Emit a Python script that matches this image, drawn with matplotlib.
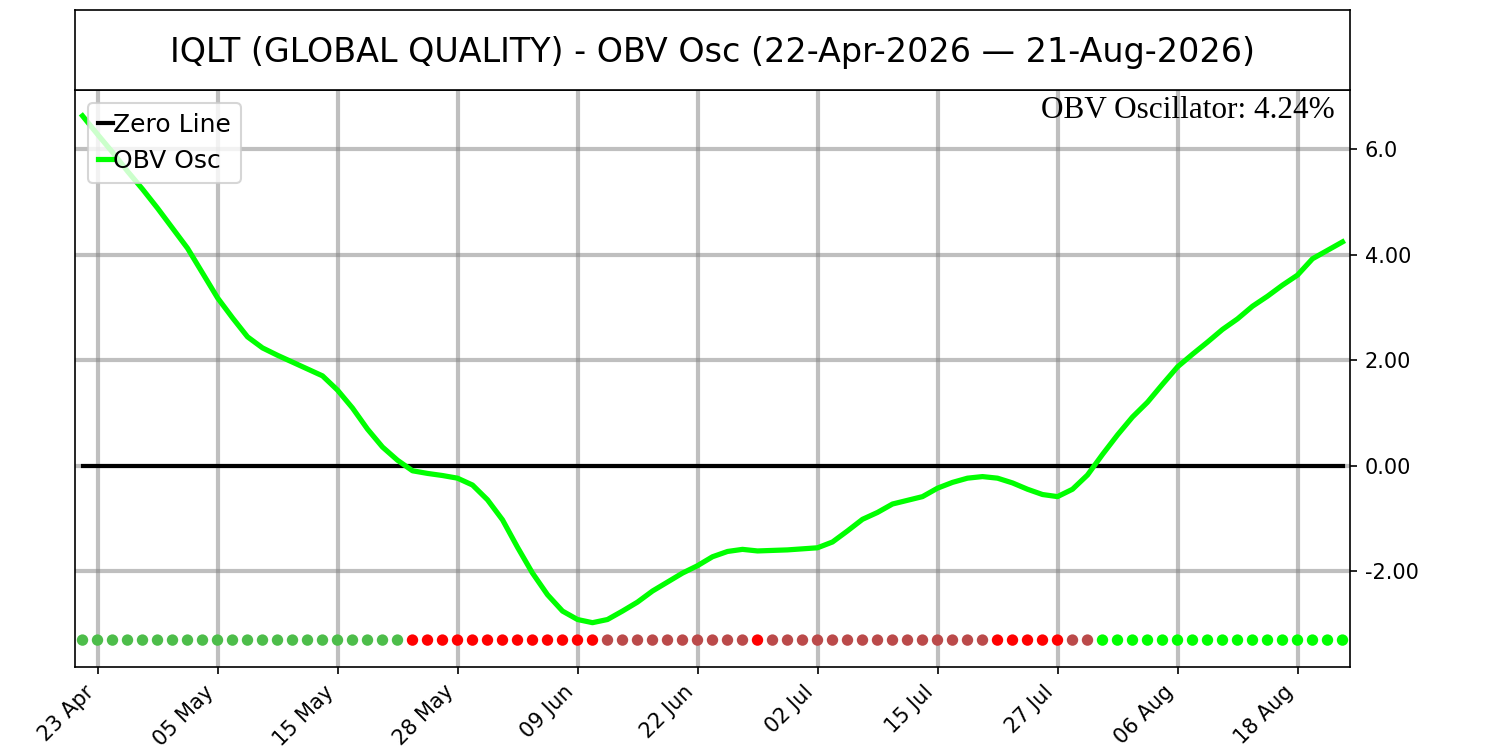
import matplotlib
matplotlib.use("Agg")
import matplotlib.pyplot as plt
import pandas as pd
import numpy as np

# ---- data ----
start_date = "2026-04-22"
end_date = "2026-08-21"
holidays = ["2026-05-25", "2026-06-19", "2026-07-03"]

obv_osc = [6.63, 6.28, 5.94, 5.58, 5.24, 4.88, 4.50, 4.12, 3.65, 3.18,
           2.80, 2.44, 2.23, 2.09, 1.96, 1.83, 1.70, 1.43, 1.09, 0.69,
           0.35, 0.10, -0.10, -0.15, -0.19, -0.24, -0.37, -0.65, -1.03, -1.55,
           -2.04, -2.45, -2.76, -2.92, -2.98, -2.92, -2.76, -2.59, -2.38, -2.21,
           -2.04, -1.90, -1.73, -1.63, -1.59, -1.62, -1.61, -1.60, -1.58, -1.56,
           -1.45, -1.24, -1.02, -0.89, -0.73, -0.66, -0.59, -0.43, -0.32, -0.24,
           -0.21, -0.24, -0.33, -0.45, -0.55, -0.59, -0.45, -0.18, 0.21, 0.58,
           0.92, 1.20, 1.54, 1.87, 2.11, 2.34, 2.58, 2.78, 3.02, 3.21,
           3.42, 3.61, 3.92, 4.08, 4.24]

signal = (["G"] * 22 + ["R"] * 13 + ["B"] * 10 + ["R"] * 1 + ["B"] * 15
          + ["R"] * 5 + ["B"] * 2 + ["L"] * 17)

tick_labels = ["23 Apr", "05 May", "15 May", "28 May", "09 Jun", "22 Jun",
               "02 Jul", "15 Jul", "27 Jul", "06 Aug", "18 Aug"]
ytick_vals = [6, 4, 2, 0, -2]
ytick_text = ["6.0", "4.00", "2.00", "0.00", "-2.00"]

title = "IQLT (GLOBAL QUALITY) - OBV Osc (22-Apr-2026 \u2014 21-Aug-2026)"
last_text = "OBV Oscillator: 4.24%"

signal_colors = {"G": "#4dbd4a", "R": "#ff0000", "B": "#bb4a4a", "L": "#00ff00"}

# ---- build ----
dates = pd.bdate_range(start_date, end_date)
dates = dates[~dates.isin(pd.to_datetime(holidays))]
x = np.arange(len(dates))
date_str = [d.strftime("%d %b") for d in dates]
tick_pos = [date_str.index(t) for t in tick_labels]

fig = plt.figure(figsize=(10, 5), dpi=150)
ax = fig.add_axes([0.05, 0.1107, 0.85, 0.7693])
tax = fig.add_axes([0.05, 0.88, 0.85, 0.1067])
tax.set_xticks([])
tax.set_yticks([])
tax.text(0.5, 0.47, title, ha="center", va="center", fontsize=16,
         transform=tax.transAxes)

ax.plot(x, [0] * len(x), color="black", lw=2, label="Zero Line", zorder=3)
ax.plot(x, obv_osc, color="#00ff00", lw=2.5, label="OBV Osc", zorder=4)

dot_y = -3.31
ax.scatter(x, [dot_y] * len(x), c=[signal_colors[s] for s in signal],
           s=30, zorder=5, linewidths=0)

ax.set_xlim(-0.5, len(x) - 0.5)
ax.set_ylim(-3.82, 7.12)
ax.set_xticks(tick_pos)
ax.set_xticklabels(tick_labels, rotation=45, ha="right", fontsize=10)
ax.yaxis.tick_right()
ax.set_yticks(ytick_vals)
ax.set_yticklabels(ytick_text, fontsize=10)
ax.grid(True, color="gray", alpha=0.5, lw=2)
ax.set_axisbelow(True)

ax.text(0.988, 0.99, last_text, transform=ax.transAxes, ha="right", va="top",
        fontsize=15, family="Liberation Serif")

ax.legend(loc="upper left", fontsize=12, handlelength=0.6, handletextpad=0.03,
          borderpad=0.4, labelspacing=0.5, borderaxespad=0.5)

fig.savefig("out.png", dpi=150)
